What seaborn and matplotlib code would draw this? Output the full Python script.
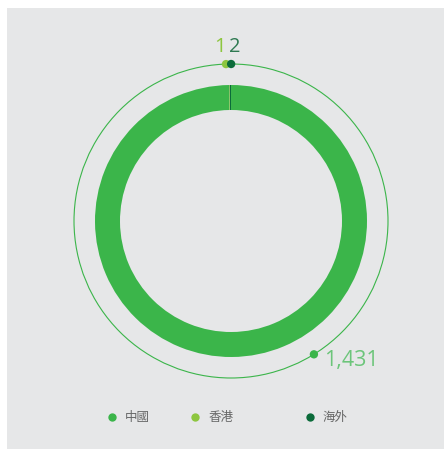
import numpy as np
import pandas as pd
import matplotlib
matplotlib.use('Agg')
import matplotlib.pyplot as plt
import seaborn as sns
from matplotlib.patches import Circle, Rectangle

# ---- data ----
categories = ['中國', '香港', '海外']
values = [1431, 1, 2]
value_labels = ['1,431', '1', '2']

# ---- style ----
colors = ['#3bb54a', '#8dc63f', '#0b6b3a']
label_colors = ['#6cc57a', '#8dc63f', '#2f7a52']
label_nudge_deg = [-31.5, -1.2, 0.3]        # layout nudge of label dots
label_offsets_px = [(10, -6), (-6, 17), (4, 17)]
label_ha = ['left', 'center', 'center']
label_sizes = [15.5, 14.5, 14.5]

sns.set_theme(style='white')
plt.rcParams['font.family'] = ['Noto Sans CJK SC', 'DejaVu Sans']

W, H = 444, 449
fig = plt.figure(figsize=(W / 100, H / 100), dpi=100)
fig.patch.set_facecolor('white')
ax = fig.add_axes([0, 0, 1, 1])
ax.add_patch(Rectangle((7, 0), W - 7, H - 8, color='#e6e7e8', zorder=0, lw=0))

cx, cy = 231, 228
R_out, ring_w, R_thin = 136, 25, 157

ax.pie(values, colors=colors, startangle=90, counterclock=False,
       radius=R_out, center=(cx, cy), frame=True,
       wedgeprops=dict(width=ring_w, linewidth=0))
ax.add_patch(Circle((cx, cy), R_thin, fill=False, ec='#3bb54a', lw=0.8, zorder=2))

# label dot positions from data (mid-angle of each slice, clockwise from top)
vals = np.array(values, dtype=float)
cum = np.cumsum(vals) - vals / 2
mid_deg = cum / vals.sum() * 360 + np.array(label_nudge_deg)
theta = np.deg2rad(90 - mid_deg)
df = pd.DataFrame({'cat': categories,
                   'x': cx + R_thin * np.cos(theta),
                   'y': cy + R_thin * np.sin(theta)})
sns.scatterplot(data=df, x='x', y='y', hue='cat', palette=colors, s=36,
                linewidth=0, legend=False, ax=ax, zorder=4)

for i, row in df.iterrows():
    dx, dy = label_offsets_px[i]
    ax.annotate(value_labels[i], (row.x, row.y),
                xytext=(dx * 0.72, dy * 0.72), textcoords='offset points',
                ha=label_ha[i], va='center', color=label_colors[i],
                fontsize=label_sizes[i], family=['Open Sans', 'DejaVu Sans'],
                fontweight='normal')

# legend
leg_x = [112, 195, 310]
leg_y = H - 417
for i, c in enumerate(categories):
    ax.scatter([leg_x[i]], [leg_y], s=36, color=colors[i], lw=0, zorder=4)
    ax.text(leg_x[i] + 13, leg_y, c, ha='left', va='center', fontsize=9,
            color='#666666')

ax.set_xlim(0, W)
ax.set_ylim(0, H)
ax.set_aspect('equal')
ax.axis('off')
fig.savefig('out.png', dpi=100, facecolor='white')
